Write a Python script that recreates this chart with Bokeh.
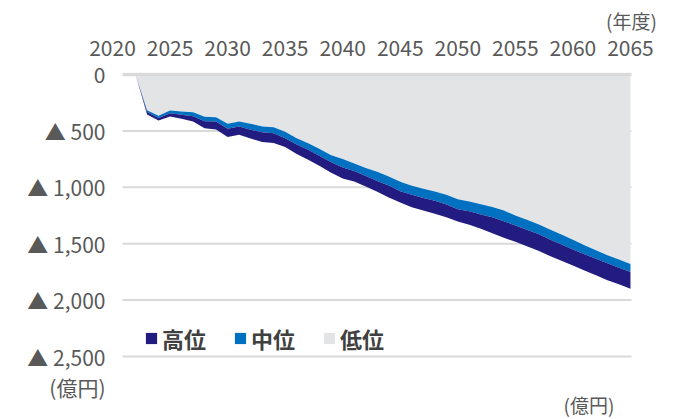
from bokeh.plotting import figure
from bokeh.models import Range1d, FixedTicker, Legend, LegendItem, ColumnDataSource
from bokeh.core.properties import value
from bokeh.embed import file_html
from bokeh.resources import INLINE

# ---- data ----
years = list(range(2022, 2066))
low = [0, 318, 365, 320, 328, 334, 375, 378, 437, 417, 437, 461, 467, 508, 565, 610, 660, 715,
       750, 790, 830, 862, 904, 950, 987, 1013, 1037, 1067, 1105, 1126, 1150, 1175, 1206, 1250,
       1287, 1327, 1374, 1418, 1466, 1513, 1557, 1602, 1640, 1679]
mid = [0, 332, 385, 343, 357, 370, 414, 417, 482, 461, 490, 512, 520, 565, 620, 668, 722, 778,
       825, 856, 900, 945, 985, 1035, 1067, 1094, 1120, 1153, 1195, 1212, 1241, 1265, 1300, 1339,
       1377, 1415, 1463, 1507, 1551, 1593, 1634, 1673, 1714, 1752]
high = [0, 355, 408, 372, 393, 417, 476, 488, 555, 535, 568, 598, 608, 642, 705, 755, 812, 870,
        922, 948, 993, 1040, 1090, 1135, 1176, 1206, 1235, 1265, 1303, 1333, 1368, 1407, 1448, 1483,
        1522, 1563, 1608, 1652, 1693, 1738, 1779, 1823, 1859, 1900]
series_names = ["高位", "中位", "低位"]
x_ticks = [2020, 2025, 2030, 2035, 2040, 2045, 2050, 2055, 2060, 2065]
x_tick_labels = ["2020", "2025", "2030", "2035", "2040", "2045", "2050", "2055", "2060", "2065"]
y_ticks = [0, 500, 1000, 1500, 2000, 2500]
y_tick_labels = ["0", "▲ 500", "▲ 1,000", "▲ 1,500", "▲ 2,000", "▲ 2,500"]
unit_y = "(億円)"
unit_x = "(年度)"

# ---- style / layout constants ----
FONT = "Noto Sans CJK JP"
C_HIGH = "#221c80"
C_MID = "#0070c0"
C_LOW = "#e3e4e6"
GRID = "#d9d9d9"
TXT = "#595959"
GRID_X0 = 2020.87
GRID_X1 = 2065.2
UNIT_Y_POS = 2766            # y position of the left unit text (below ▲2,500)
UNIT_R_POS = (2061.4, 2925)  # bottom-right unit text

p = figure(width=674, height=419, output_backend="svg", toolbar_location=None,
           x_axis_location="above",
           x_range=Range1d(2019.39, 2065.09), y_range=Range1d(3058.5, -17.7),
           min_border_left=105, min_border_right=43, min_border_top=72, min_border_bottom=0)
p.outline_line_color = None
p.grid.visible = False
p.background_fill_color = "white"
p.border_fill_color = "white"

# grid lines (behind areas)
p.segment(x0=GRID_X0, x1=GRID_X1, y0=y_ticks[1:], y1=y_ticks[1:], line_color=GRID, line_width=2)

src = ColumnDataSource(dict(year=years, zero=[0] * len(years), low=low, mid=mid, high=high))
r_low = p.varea(x="year", y1="zero", y2="low", source=src, fill_color=C_LOW)
r_mid = p.varea(x="year", y1="low", y2="mid", source=src, fill_color=C_MID)
r_high = p.varea(x="year", y1="mid", y2="high", source=src, fill_color=C_HIGH)

# zero line on top
p.segment(x0=GRID_X0, x1=GRID_X1, y0=y_ticks[:1], y1=y_ticks[:1], line_color=GRID, line_width=3.5)

for ax in (p.xaxis, p.yaxis):
    ax.axis_line_color = None
    ax.major_tick_line_color = None
    ax.minor_tick_line_color = None
    ax.major_tick_out = 0
    ax.major_label_text_font = FONT
    ax.major_label_text_font_size = "21px"
    ax.major_label_text_color = TXT

p.xaxis.ticker = FixedTicker(ticks=x_ticks)
p.xaxis.major_label_overrides = dict(zip(x_ticks, x_tick_labels))
p.xaxis.major_label_standoff = 17
p.yaxis.ticker = FixedTicker(ticks=y_ticks + [UNIT_Y_POS])
labels_y = dict(zip(y_ticks, y_tick_labels))
labels_y[UNIT_Y_POS] = unit_y
p.yaxis.major_label_overrides = labels_y
p.yaxis.major_label_standoff = 0

# year unit: axis label of the top axis, at the right end
xa = p.xaxis[0]
xa.axis_label = unit_x
xa.axis_label_align = "end"
xa.axis_label_standoff = 3
xa.axis_label_text_font = FONT
xa.axis_label_text_font_size = "19px"
xa.axis_label_text_font_style = "normal"
xa.axis_label_text_color = TXT

legend = Legend(items=[LegendItem(label=series_names[0], renderers=[r_high]),
                       LegendItem(label=series_names[1], renderers=[r_mid]),
                       LegendItem(label=series_names[2], renderers=[r_low])],
                orientation="horizontal", location=(39, 65), padding=0, margin=0,
                spacing=27, glyph_width=14, glyph_height=14, label_standoff=4,
                label_text_font=FONT, label_text_font_size="22px", label_text_font_style="bold",
                label_text_color="#404040", border_line_color=None, background_fill_alpha=0)
p.add_layout(legend, "center")

# bottom-right unit text
p.text(x=[UNIT_R_POS[0]], y=[UNIT_R_POS[1]], text=[unit_y], text_align="center",
       text_baseline="middle", text_font=value(FONT), text_font_size="19px", text_color=TXT)

open("out.html", "w").write(file_html(p, INLINE))
